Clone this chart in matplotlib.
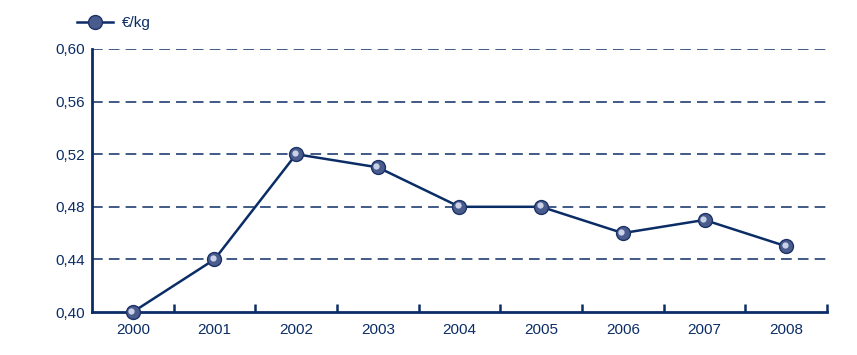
import matplotlib
matplotlib.use("Agg")
import matplotlib.pyplot as plt
from matplotlib.lines import Line2D
import matplotlib.transforms as mtrans

years = ["2000", "2001", "2002", "2003", "2004", "2005", "2006", "2007", "2008"]
values = [0.40, 0.44, 0.52, 0.51, 0.48, 0.48, 0.46, 0.47, 0.45]
yticks = [0.40, 0.44, 0.48, 0.52, 0.56, 0.60]
ytick_labels = ["0,40", "0,44", "0,48", "0,52", "0,56", "0,60"]
series_label = "€/kg"

navy = "#0b2d66"
plt.rcParams['font.family'] = ['Liberation Sans', 'DejaVu Sans']

fig = plt.figure(figsize=(8.57, 3.55), dpi=100)
ax = fig.add_axes([92/857, 1-312/355, (827-92)/857, (312-49)/355])

x = list(range(len(years)))
ax.plot(x, values, color=navy, lw=1.8, zorder=3, clip_on=False)
ax.plot(x, values, ls='none', marker='o', ms=10, mfc='#4a5c8e', mec='#1c3266', mew=1.0, zorder=4, clip_on=False)
off = mtrans.offset_copy(ax.transData, fig=fig, x=-1.0, y=1.0, units='points')
ax.plot(x, values, ls='none', marker='o', ms=4.5, mfc='#c9d2e6', mec='none', transform=off, zorder=5, clip_on=False)

ax.set_xlim(-0.5, len(years)-0.5)
ax.set_ylim(0.40, 0.60)
ax.set_yticks(yticks)
ax.set_yticklabels(ytick_labels)
ax.set_xticks(x)
ax.set_xticklabels(years)
ax.set_xticks([i + 0.5 for i in range(len(years))], minor=True)
ax.tick_params(axis='x', which='major', length=0, pad=8, labelsize=11, labelcolor=navy)
ax.tick_params(axis='x', which='minor', direction='in', length=6, width=1.8, color=navy)
ax.tick_params(axis='y', length=0, pad=5, labelsize=11, labelcolor=navy)

for v in yticks[1:]:
    ax.axhline(v, color=navy, lw=1.1, ls=(0, (7, 4)), zorder=1)

for s in ['top', 'right']:
    ax.spines[s].set_visible(False)
for s in ['left', 'bottom']:
    ax.spines[s].set_color(navy)
    ax.spines[s].set_linewidth(2)

h = [Line2D([0], [0], color=navy, lw=1.8, marker='o', ms=10, mfc='#4a5c8e', mec='#1c3266')]
fig.legend(h, [series_label], loc='center left', bbox_to_anchor=(63/857, 1-23/355),
           frameon=False, fontsize=11, labelcolor=navy, handlelength=2.35, handletextpad=0.6)

fig.savefig("out.png", dpi=100)
